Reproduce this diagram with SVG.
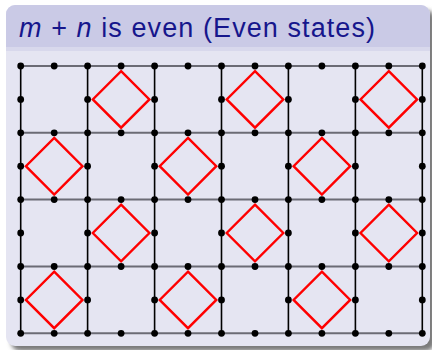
<svg xmlns="http://www.w3.org/2000/svg" width="432" height="350" viewBox="0 0 432 350">
<style>
.h{stroke:#6b6b75;stroke-width:2;}
.v{stroke:#000;stroke-width:1.6;}
.d{fill:#000;}
.dm{fill:none;stroke:#ff0000;stroke-width:2.4;stroke-linejoin:miter;}
.t{font-family:"Liberation Sans","DejaVu Sans",sans-serif;font-size:27px;fill:#16168c;}
</style>
<defs>
<filter id="sh" x="-10%" y="-10%" width="120%" height="120%"><feGaussianBlur stdDeviation="2"/></filter>
<clipPath id="pc"><rect x="6" y="5" width="424" height="341" rx="9"/></clipPath>
</defs>
<g id="panel">
<rect x="11" y="10" width="424" height="341" rx="9" fill="#7a7a7a" filter="url(#sh)"/>
<g clip-path="url(#pc)">
<rect x="6" y="5" width="424" height="341" fill="#e5e5f2"/>
<rect x="6" y="5" width="424" height="42" fill="#cacae6"/>
<rect x="6" y="47" width="424" height="4" fill="#d8d8ec"/>
</g>
<text class="t" x="19" y="37" textLength="356" lengthAdjust="spacing"><tspan font-style="italic">m</tspan> + <tspan font-style="italic">n</tspan> is even (Even states)</text>
</g>
<g id="connectors">
<g class="h">
<line x1="20.7" y1="66" x2="422.3" y2="66"/>
<line x1="20.7" y1="132.8" x2="422.3" y2="132.8"/>
<line x1="20.7" y1="199.6" x2="422.3" y2="199.6"/>
<line x1="20.7" y1="266.5" x2="422.3" y2="266.5"/>
<line x1="20.7" y1="333.3" x2="422.3" y2="333.3"/>
</g>
<g class="v">
<line x1="20.7" y1="66" x2="20.7" y2="333.3"/>
<line x1="87.6" y1="66" x2="87.6" y2="333.3"/>
<line x1="154.6" y1="66" x2="154.6" y2="333.3"/>
<line x1="221.5" y1="66" x2="221.5" y2="333.3"/>
<line x1="288.4" y1="66" x2="288.4" y2="333.3"/>
<line x1="355.4" y1="66" x2="355.4" y2="333.3"/>
<line x1="422.3" y1="66" x2="422.3" y2="333.3"/>
</g>
</g>
<g id="dots" class="d">
<g id="row0">
<circle cx="20.7" cy="66" r="3.4"/><circle cx="54.2" cy="66" r="3.4"/><circle cx="87.6" cy="66" r="3.4"/><circle cx="121.1" cy="66" r="3.4"/><circle cx="154.6" cy="66" r="3.4"/><circle cx="188" cy="66" r="3.4"/><circle cx="221.5" cy="66" r="3.4"/><circle cx="255" cy="66" r="3.4"/><circle cx="288.4" cy="66" r="3.4"/><circle cx="321.9" cy="66" r="3.4"/><circle cx="355.4" cy="66" r="3.4"/><circle cx="388.8" cy="66" r="3.4"/><circle cx="422.3" cy="66" r="3.4"/>
</g>
<g id="row2">
<circle cx="20.7" cy="132.8" r="3.4"/><circle cx="54.2" cy="132.8" r="3.4"/><circle cx="87.6" cy="132.8" r="3.4"/><circle cx="121.1" cy="132.8" r="3.4"/><circle cx="154.6" cy="132.8" r="3.4"/><circle cx="188" cy="132.8" r="3.4"/><circle cx="221.5" cy="132.8" r="3.4"/><circle cx="255" cy="132.8" r="3.4"/><circle cx="288.4" cy="132.8" r="3.4"/><circle cx="321.9" cy="132.8" r="3.4"/><circle cx="355.4" cy="132.8" r="3.4"/><circle cx="388.8" cy="132.8" r="3.4"/><circle cx="422.3" cy="132.8" r="3.4"/>
</g>
<g id="row4">
<circle cx="20.7" cy="199.6" r="3.4"/><circle cx="54.2" cy="199.6" r="3.4"/><circle cx="87.6" cy="199.6" r="3.4"/><circle cx="121.1" cy="199.6" r="3.4"/><circle cx="154.6" cy="199.6" r="3.4"/><circle cx="188" cy="199.6" r="3.4"/><circle cx="221.5" cy="199.6" r="3.4"/><circle cx="255" cy="199.6" r="3.4"/><circle cx="288.4" cy="199.6" r="3.4"/><circle cx="321.9" cy="199.6" r="3.4"/><circle cx="355.4" cy="199.6" r="3.4"/><circle cx="388.8" cy="199.6" r="3.4"/><circle cx="422.3" cy="199.6" r="3.4"/>
</g>
<g id="row6">
<circle cx="20.7" cy="266.5" r="3.4"/><circle cx="54.2" cy="266.5" r="3.4"/><circle cx="87.6" cy="266.5" r="3.4"/><circle cx="121.1" cy="266.5" r="3.4"/><circle cx="154.6" cy="266.5" r="3.4"/><circle cx="188" cy="266.5" r="3.4"/><circle cx="221.5" cy="266.5" r="3.4"/><circle cx="255" cy="266.5" r="3.4"/><circle cx="288.4" cy="266.5" r="3.4"/><circle cx="321.9" cy="266.5" r="3.4"/><circle cx="355.4" cy="266.5" r="3.4"/><circle cx="388.8" cy="266.5" r="3.4"/><circle cx="422.3" cy="266.5" r="3.4"/>
</g>
<g id="row8">
<circle cx="20.7" cy="333.3" r="3.4"/><circle cx="54.2" cy="333.3" r="3.4"/><circle cx="87.6" cy="333.3" r="3.4"/><circle cx="121.1" cy="333.3" r="3.4"/><circle cx="154.6" cy="333.3" r="3.4"/><circle cx="188" cy="333.3" r="3.4"/><circle cx="221.5" cy="333.3" r="3.4"/><circle cx="255" cy="333.3" r="3.4"/><circle cx="288.4" cy="333.3" r="3.4"/><circle cx="321.9" cy="333.3" r="3.4"/><circle cx="355.4" cy="333.3" r="3.4"/><circle cx="388.8" cy="333.3" r="3.4"/><circle cx="422.3" cy="333.3" r="3.4"/>
</g>
<g id="oddrows">
<circle cx="20.7" cy="99.4" r="3.4"/><circle cx="87.6" cy="99.4" r="3.4"/><circle cx="154.6" cy="99.4" r="3.4"/><circle cx="221.5" cy="99.4" r="3.4"/><circle cx="288.4" cy="99.4" r="3.4"/><circle cx="355.4" cy="99.4" r="3.4"/><circle cx="422.3" cy="99.4" r="3.4"/>
<circle cx="20.7" cy="166.2" r="3.4"/><circle cx="87.6" cy="166.2" r="3.4"/><circle cx="154.6" cy="166.2" r="3.4"/><circle cx="221.5" cy="166.2" r="3.4"/><circle cx="288.4" cy="166.2" r="3.4"/><circle cx="355.4" cy="166.2" r="3.4"/><circle cx="422.3" cy="166.2" r="3.4"/>
<circle cx="20.7" cy="233" r="3.4"/><circle cx="87.6" cy="233" r="3.4"/><circle cx="154.6" cy="233" r="3.4"/><circle cx="221.5" cy="233" r="3.4"/><circle cx="288.4" cy="233" r="3.4"/><circle cx="355.4" cy="233" r="3.4"/><circle cx="422.3" cy="233" r="3.4"/>
<circle cx="20.7" cy="299.9" r="3.4"/><circle cx="87.6" cy="299.9" r="3.4"/><circle cx="154.6" cy="299.9" r="3.4"/><circle cx="221.5" cy="299.9" r="3.4"/><circle cx="288.4" cy="299.9" r="3.4"/><circle cx="355.4" cy="299.9" r="3.4"/><circle cx="422.3" cy="299.9" r="3.4"/>
</g>
</g>
<g id="diamonds" class="dm">
<polygon id="d01" points="121.1,71.1 149.4,99.4 121.1,127.7 92.8,99.4"/>
<polygon id="d03" points="255,71.1 283.3,99.4 255,127.7 226.7,99.4"/>
<polygon id="d05" points="388.8,71.1 417.1,99.4 388.8,127.7 360.5,99.4"/>
<polygon id="d10" points="54.2,137.9 82.5,166.2 54.2,194.5 25.9,166.2"/>
<polygon id="d12" points="188,137.9 216.3,166.2 188,194.5 159.7,166.2"/>
<polygon id="d14" points="321.9,137.9 350.2,166.2 321.9,194.5 293.6,166.2"/>
<polygon id="d21" points="121.1,204.7 149.4,233 121.1,261.3 92.8,233"/>
<polygon id="d23" points="255,204.7 283.3,233 255,261.3 226.7,233"/>
<polygon id="d25" points="388.8,204.7 417.1,233 388.8,261.3 360.5,233"/>
<polygon id="d30" points="54.2,271.6 82.5,299.9 54.2,328.2 25.9,299.9"/>
<polygon id="d32" points="188,271.6 216.3,299.9 188,328.2 159.7,299.9"/>
<polygon id="d34" points="321.9,271.6 350.2,299.9 321.9,328.2 293.6,299.9"/>
</g>
</svg>
